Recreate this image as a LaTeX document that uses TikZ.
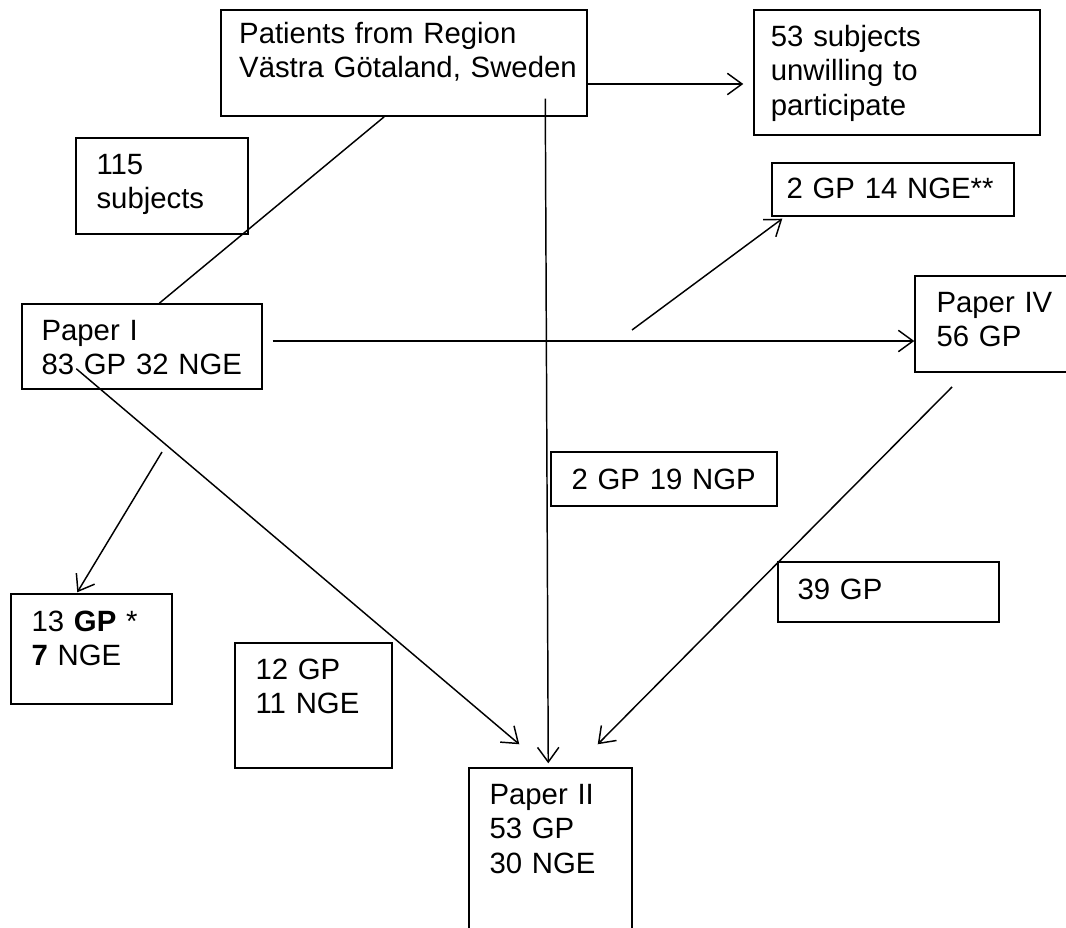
\documentclass[tikz,border=0pt]{standalone}
\usepackage{fontspec}
\setmainfont{Liberation Sans}
\usetikzlibrary{calc,arrows.meta}
\tikzset{
  box/.style={draw, line width=1.1pt, rectangle, inner sep=0pt},
  txt/.style={anchor=base west, inner sep=0pt, text width=300pt, align=left,
    font=\fontsize{22}{26}\selectfont},
  arr/.style={line width=1.1pt, -{Straight Barb[length=11pt,width=16pt,line width=1.1pt]}},
  ln/.style={line width=1.1pt}
}
\begin{document}
\begin{tikzpicture}[x=0.75pt,y=-0.75pt]
\useasboundingbox (0,0) rectangle (1066,927);
\clip (0,0) rectangle (1066,927);
\fill[white] (0,0) rectangle (1066,927);

% boxes
\node[box, minimum width=274.5pt, minimum height=79.5pt,
  label={[txt, xshift=14pt, yshift=-25.5pt]north west:Patients from Region\\Västra Götaland, Sweden}]
  (src) at (404,63) {};
\node[box, minimum width=214.5pt, minimum height=93.75pt,
  label={[txt, xshift=13pt, yshift=-27.75pt]north west:53 subjects\\unwilling to\\participate}]
  (unw) at (897,72.5) {};
\node[box, minimum width=129pt, minimum height=72pt,
  label={[txt, xshift=15.75pt, yshift=-27.75pt]north west:115\\subjects}]
  (s115) at (162,186) {};
\node[box, minimum width=181.5pt, minimum height=39.75pt,
  label={[txt, xshift=11.25pt, yshift=-27pt]north west:2 GP 14 NGE**}]
  (excl) at (893,189.5) {};
\node[box, minimum width=116.25pt, minimum height=72pt,
  label={[txt, xshift=16.5pt, yshift=-27.75pt]north west:Paper IV\\56 GP}]
  (p4) at (992.5,324) {};
\node[box, minimum width=180pt, minimum height=63.75pt,
  label={[txt, xshift=15pt, yshift=-27.75pt]north west:Paper I\\83 GP 32 NGE}]
  (p1) at (142,346.5) {};
\node[box, minimum width=120.75pt, minimum height=82.5pt,
  label={[txt, xshift=15.75pt, yshift=-28.5pt]north west:13 \textbf{GP} *\\\textbf{7} NGE}]
  (g13) at (91.5,649) {};
\node[box, minimum width=117.75pt, minimum height=93.75pt,
  label={[txt, xshift=15.75pt, yshift=-27.75pt]north west:12 GP\\11 NGE}]
  (g12) at (313.5,705.5) {};
\node[box, minimum width=169.5pt, minimum height=40.5pt,
  label={[txt, xshift=15.75pt, yshift=-28.5pt]north west:2 GP 19 NGP}]
  (g2) at (664,479) {};
\node[box, minimum width=165.75pt, minimum height=45pt,
  label={[txt, xshift=15pt, yshift=-28.5pt]north west:39 GP}]
  (g39) at (888.5,592) {};
\node[box, minimum width=122.25pt, minimum height=129pt,
  label={[txt, xshift=15.75pt, yshift=-27.75pt]north west:Paper II\\53 GP\\30 NGE}]
  (p2) at (550.5,854) {};

% free ends
\coordinate (e1) at (632,330);
\coordinate (e2) at (162,452);
\coordinate (e3) at (952,387);

% connectors
\draw[arr] ($(src.east)+(0,21)$) -- ($(unw.west)+(-10,11.5)$);
\draw[ln]  ($(src.south west)+(164,0)$) -- ($(p1.north west)+(138,0)$);
\draw[arr] ($(src.south west)+(325,-18)$) -- ($(p2.north west)+(80,-4)$);
\draw[arr] ($(p1.east)+(10,-5.5)$) -- ($(p4.west)+(0,17)$);
\draw[arr] (e1) -- ($(excl.south west)+(11,2)$);
\draw[arr] ($(p1.south west)+(55,-21)$) -- ($(p2.north west)+(51,-23)$);
\draw[arr] (e2) -- ($(g13.north west)+(67,-1)$);
\draw[arr] (e3) -- ($(p2.north east)+(-35,-23)$);
\end{tikzpicture}
\end{document}
